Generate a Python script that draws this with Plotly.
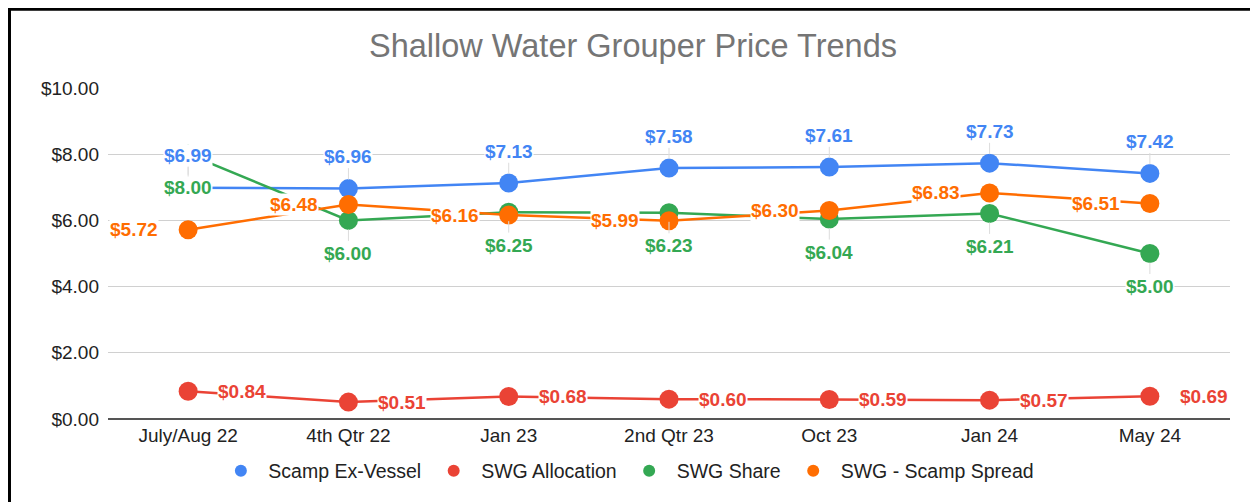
import plotly.graph_objects as go

categories = ["July/Aug 22", "4th Qtr 22", "Jan 23", "2nd Qtr 23", "Oct 23", "Jan 24", "May 24"]
scamp_ex_vessel = [6.99, 6.96, 7.13, 7.58, 7.61, 7.73, 7.42]
swg_allocation = [0.84, 0.51, 0.68, 0.60, 0.59, 0.57, 0.69]
swg_share = [8.00, 6.00, 6.25, 6.23, 6.04, 6.21, 5.00]
swg_scamp_spread = [5.72, 6.48, 6.16, 5.99, 6.30, 6.83, 6.51]
y_ticks = [0, 2, 4, 6, 8, 10]

FONT = "Arial, Liberation Sans, sans-serif"

series = [
    ("Scamp Ex-Vessel", scamp_ex_vessel, "#4285F4", dict(xshift=0, yshift=32, xanchor="center"), -22),
    ("SWG Allocation", swg_allocation, "#EA4335", dict(xshift=29, yshift=0, xanchor="left"), None),
    ("SWG Share", swg_share, "#34A853", dict(xshift=0, yshift=-33, xanchor="center"), 22),
    ("SWG - Scamp Spread", swg_scamp_spread, "#FF6D01", dict(xshift=-29, yshift=0, xanchor="right"), None),
]

fig = go.Figure()
leaders = []
labels = []
for name, vals, color, pos, lead in series:
    fig.add_trace(go.Scatter(
        x=categories, y=vals, mode="lines+markers", name=name,
        line=dict(color=color, width=2.5),
        marker=dict(color=color, size=19),
        showlegend=False, hoverinfo="skip",
    ))
for name, vals, color, pos, lead in series:
    fig.add_trace(go.Scatter(
        x=[None], y=[None], mode="markers", name=name,
        marker=dict(color=color, size=17), showlegend=True,
    ))
for name, vals, color, pos, lead in series:
    for c, v in zip(categories, vals):
        if lead is not None:
            leaders.append(dict(
                x=c, y=v, xref="x", yref="y", text="", showarrow=True,
                arrowhead=0, arrowwidth=1, arrowcolor="#dcdcdc",
                ax=0, ay=lead, standoff=9,
            ))
        labels.append(dict(
            x=c, y=v, xref="x", yref="y", text=f"${v:.2f}", showarrow=False,
            font=dict(family=FONT, size=19, color=color, weight="bold"),
            bgcolor="white", borderpad=0, yanchor="middle", **pos,
        ))

fig.update_layout(
    width=1250, height=494,
    margin=dict(l=100, r=28, t=80, b=82),
    paper_bgcolor="white", plot_bgcolor="white",
    font=dict(family=FONT, color="#222222"),
    title=dict(text="Shallow Water Grouper Price Trends", x=0.5, xanchor="center",
               y=0.923, yanchor="middle",
               font=dict(family=FONT, size=32.5, color="#757575")),
    xaxis=dict(type="category", range=[-0.5, 6.5], showgrid=False, zeroline=False,
               showline=False, ticks="", ticklabelstandoff=3,
               tickfont=dict(size=19, color="#222222")),
    yaxis=dict(range=[0, 10], tickvals=y_ticks, ticktext=[f"${t:.2f}" for t in y_ticks],
               showgrid=True, gridcolor="#d0d0d0", gridwidth=1,
               zeroline=True, zerolinecolor="#555555", zerolinewidth=2,
               ticklabelstandoff=8,
               tickfont=dict(size=19, color="#222222"), ticklen=0, ticks=""),
    legend=dict(orientation="h", x=0.462, xanchor="center", y=-0.154, yanchor="middle",
                font=dict(size=19.5, color="#222222"), itemsizing="constant",
                itemwidth=45),
    annotations=leaders + labels,
    shapes=[dict(type="rect", xref="paper", yref="paper",
                 x0=-0.0878, x1=1.03, y0=-0.26, y1=1.238,
                 line=dict(color="black", width=3), fillcolor="rgba(0,0,0,0)", layer="above")],
)

fig.write_html("out.html")
